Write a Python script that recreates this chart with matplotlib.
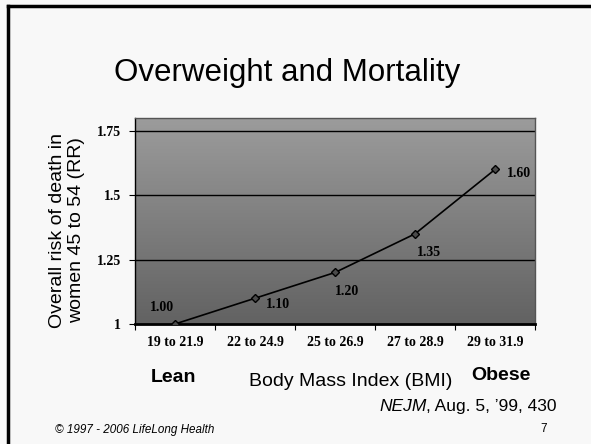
import matplotlib.pyplot as plt
import numpy as np
from matplotlib.lines import Line2D
from matplotlib.colors import LinearSegmentedColormap

categories = ["19 to 21.9", "22 to 24.9", "25 to 26.9", "27 to 28.9", "29 to 31.9"]
rr = [1.00, 1.10, 1.20, 1.35, 1.60]
rr_labels = ["1.00", "1.10", "1.20", "1.35", "1.60"]
yticks = [1, 1.25, 1.5, 1.75]
ytick_labels = ["1", "1.25", "1.5", "1.75"]

# where each value label sits relative to its point (points)
label_offsets = [(-9.5, 12), (16.5, -4.5), (8.5, -13.5), (10, -13.5), (17, -3)]

W, H = 591, 444
fig = plt.figure(figsize=(W / 100, H / 100), dpi=100)
fig.patch.set_facecolor("#f8f8f8")

sans = "Liberation Sans"
serif = "Liberation Serif"

# slide frame, left and top edges only
fig.add_artist(Line2D([8 / W, 8 / W], [0, 1 - 6 / H], color="black", lw=2.5, transform=fig.transFigure))
fig.add_artist(Line2D([8 / W, 1], [1 - 6 / H, 1 - 6 / H], color="black", lw=2.5, transform=fig.transFigure))

ax = fig.add_axes([135 / W, 1 - 324 / H, 400 / W, 206 / H])
x = np.arange(len(categories)) + 0.5
ax.set_xlim(0, len(categories))
ax.set_ylim(1, 1.8)

# grey gradient background
grad = np.linspace(0, 1, 256).reshape(-1, 1)
cmap = LinearSegmentedColormap.from_list("g", ["#9c9c9c", "#626262"])
ax.imshow(grad, extent=[0, len(categories), 1, 1.8], aspect="auto", cmap=cmap,
          origin="upper", zorder=0)

for yv in yticks[1:]:
    ax.axhline(yv, color="black", lw=1, zorder=1)

ax.plot(x, rr, color="black", lw=1.2, marker="D", markersize=4.5,
        markerfacecolor="#4a4a4a", markeredgecolor="black", zorder=3)
for xi, yi, lab, off in zip(x, rr, rr_labels, label_offsets):
    ax.annotate(lab, (xi, yi), xytext=off, textcoords="offset points",
                ha="center", va="center", fontsize=10, fontweight="bold",
                family=serif, color="black")

ax.set_xticks(np.arange(len(categories) + 1))
ax.set_xticklabels([])
ax.set_xticks(x, minor=True)
ax.set_xticklabels(categories, minor=True, fontsize=10, fontweight="bold", family=serif)
ax.tick_params(axis="x", which="minor", length=0, pad=9)
ax.tick_params(axis="x", which="major", length=4, color="black")
ax.set_yticks(yticks)
ax.set_yticklabels(ytick_labels, fontsize=10, fontweight="bold", family=serif)
ax.tick_params(axis="y", length=4, pad=6)

for s in ["top", "right"]:
    ax.spines[s].set_color("#555555")
    ax.spines[s].set_linewidth(1)
ax.spines["bottom"].set_linewidth(2)
ax.spines["left"].set_linewidth(1)

fig.text(114 / W, 1 - 73 / H, "Overweight and Mortality", ha="left", va="center",
         fontsize=22.5, family=sans)
fig.text(67 / W, 1 - 230 / H, "Overall risk of death in\nwomen 45 to 54 (RR)", ha="center",
         va="center", rotation=90, fontsize=14, family=sans, linespacing=1.15)
fig.text(173 / W, 1 - 377 / H, "Lean", ha="center", va="center", fontsize=14,
         fontweight="bold", family=sans)
fig.text(351 / W, 1 - 381 / H, "Body Mass Index (BMI)", ha="center", va="center",
         fontsize=14, family=sans)
fig.text(501 / W, 1 - 375 / H, "Obese", ha="center", va="center", fontsize=14,
         fontweight="bold", family=sans)

# source line: italic journal name followed by plain text, right edge at x=557
rest = fig.text(557 / W, 1 - 406 / H, ", Aug. 5, \u201999, 430", ha="right", va="center",
                fontsize=12.5, family=sans)
fig.canvas.draw()
bb = rest.get_window_extent()
fig.text(bb.x0 / fig.bbox.width, 1 - 406 / H, "NEJM", ha="right", va="center",
         fontsize=12.5, family=sans, style="italic")

fig.text(55 / W, 1 - 430 / H, "\u00a9 1997 - 2006 LifeLong Health", ha="left", va="center",
         fontsize=8.4, family=sans, style="italic")
fig.text(544 / W, 1 - 429 / H, "7", ha="center", va="center", fontsize=8.4, family=sans)

fig.savefig("out.png", dpi=100, facecolor=fig.get_facecolor())
